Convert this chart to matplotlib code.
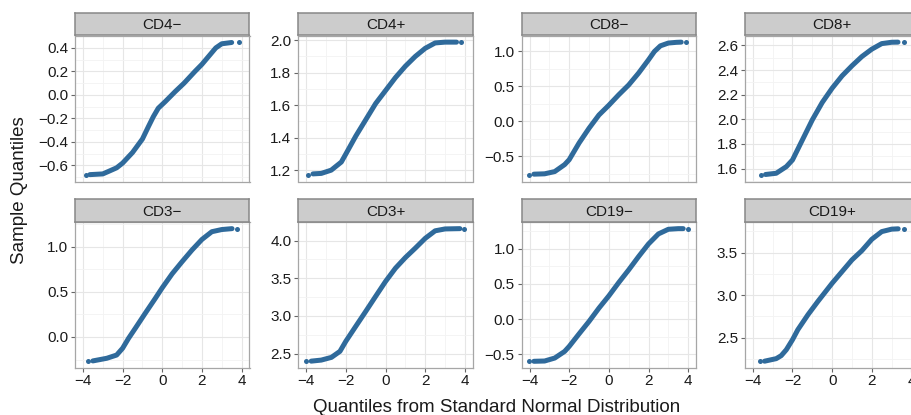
import matplotlib
matplotlib.use("Agg")
import matplotlib.pyplot as plt
from matplotlib.ticker import MultipleLocator, FuncFormatter

plt.rcParams["font.family"] = ["Liberation Sans", "DejaVu Sans"]

# facet order, left to right, top to bottom
panels = ["CD4\u2212", "CD4+", "CD8\u2212", "CD8+",
          "CD3\u2212", "CD3+", "CD19\u2212", "CD19+"]

# theoretical quantiles (z) and sample quantiles (q); first and last entries are the lone tail points
cd4_neg_z = [-3.86, -3.65, -3.0, -2.7, -2.3, -2.0, -1.5, -1.0, -0.7, -0.45, -0.2, 0.15, 0.65, 1.1, 1.65, 2.0, 2.4, 2.7, 3.0, 3.5, 3.87]
cd4_neg_q = [-0.68, -0.678, -0.672, -0.65, -0.62, -0.58, -0.49, -0.375, -0.27, -0.185, -0.113, -0.057, 0.028, 0.10, 0.20, 0.26, 0.34, 0.40, 0.435, 0.446, 0.449]

cd4_pos_z = [-3.91, -3.66, -3.24, -2.74, -2.23, -2.0, -1.5, -1.0, -0.5, 0.0, 0.5, 1.0, 1.5, 2.0, 2.5, 3.0, 3.58, 3.83]
cd4_pos_q = [1.171, 1.177, 1.18, 1.20, 1.25, 1.30, 1.41, 1.51, 1.61, 1.69, 1.77, 1.84, 1.90, 1.95, 1.983, 1.988, 1.988, 1.988]

cd8_neg_z = [-4.03, -3.78, -3.24, -2.73, -2.23, -2.0, -1.5, -1.0, -0.5, 0.0, 0.5, 1.0, 1.5, 2.0, 2.3, 2.6, 3.0, 3.4, 3.65, 3.91]
cd8_neg_q = [-0.767, -0.757, -0.752, -0.72, -0.62, -0.55, -0.31, -0.10, 0.09, 0.23, 0.38, 0.52, 0.69, 0.88, 1.0, 1.08, 1.12, 1.13, 1.133, 1.133]

cd8_pos_z = [-3.61, -3.36, -2.82, -2.31, -2.0, -1.5, -1.0, -0.5, 0.0, 0.5, 1.0, 1.5, 2.0, 2.5, 3.0, 3.32, 3.61]
cd8_pos_q = [1.549, 1.552, 1.562, 1.616, 1.67, 1.833, 1.996, 2.137, 2.253, 2.353, 2.435, 2.51, 2.57, 2.615, 2.626, 2.627, 2.627]

cd3_neg_z = [-3.75, -3.5, -2.8, -2.3, -2.0, -1.7, -1.36, -0.86, -0.35, 0.0, 0.5, 1.0, 1.5, 2.0, 2.5, 3.0, 3.52, 3.77]
cd3_neg_q = [-0.27, -0.265, -0.236, -0.20, -0.125, -0.015, 0.096, 0.262, 0.428, 0.545, 0.70, 0.834, 0.963, 1.08, 1.166, 1.19, 1.20, 1.20]

cd3_pos_z = [-4.0, -3.75, -3.24, -2.73, -2.3, -2.0, -1.5, -1.0, -0.5, 0.0, 0.5, 1.0, 1.5, 2.0, 2.5, 3.0, 3.75, 3.96]
cd3_pos_q = [2.397, 2.40, 2.414, 2.45, 2.53, 2.665, 2.863, 3.06, 3.26, 3.458, 3.634, 3.775, 3.90, 4.03, 4.13, 4.155, 4.159, 4.159]

cd19_neg_z = [-4.01, -3.78, -3.24, -2.73, -2.23, -2.0, -1.5, -1.0, -0.5, 0.0, 0.5, 1.0, 1.5, 2.0, 2.5, 3.0, 3.5, 3.75, 4.0]
cd19_neg_q = [-0.599, -0.598, -0.594, -0.552, -0.458, -0.387, -0.208, -0.033, 0.156, 0.33, 0.519, 0.698, 0.887, 1.066, 1.208, 1.274, 1.283, 1.283, 1.283]

cd19_pos_z = [-3.66, -3.41, -2.82, -2.57, -2.31, -2.0, -1.73, -1.22, -0.72, 0.0, 0.5, 1.0, 1.5, 2.0, 2.5, 3.0, 3.33, 3.63]
cd19_pos_q = [2.222, 2.224, 2.254, 2.289, 2.359, 2.476, 2.594, 2.77, 2.926, 3.14, 3.277, 3.414, 3.523, 3.656, 3.746, 3.775, 3.779, 3.781]

series = [(cd4_neg_z, cd4_neg_q), (cd4_pos_z, cd4_pos_q), (cd8_neg_z, cd8_neg_q), (cd8_pos_z, cd8_pos_q),
          (cd3_neg_z, cd3_neg_q), (cd3_pos_z, cd3_pos_q), (cd19_neg_z, cd19_neg_q), (cd19_pos_z, cd19_pos_q)]

# y tick spacing per facet (free y scales)
y_steps = [0.2, 0.2, 0.5, 0.2, 0.5, 0.5, 0.5, 0.5]

POINT_COLOR = "#2f6a9b"
TEXT_COLOR = "#1a1a1a"
W, H = 911, 415


def int_fmt(v, _pos):
    return ("%d" % round(v)).replace("-", "\u2212")


def one_dec(v, _pos):
    return ("%.1f" % v).replace("-", "\u2212")


fig = plt.figure(figsize=(W / 100, H / 100), dpi=100)

# panel geometry in pixels
left0, pitch, pw = 75, 223.3, 174.5
strip_h, panel_h = 22.5, 146
row_tops = [13, 199.5]

for i, (name, (z, q), step) in enumerate(zip(panels, series, y_steps)):
    row, col = divmod(i, 4)
    x0 = left0 + col * pitch
    top = row_tops[row]
    ax = fig.add_axes([x0 / W, 1 - (top + strip_h + panel_h) / H, pw / W, panel_h / H])
    sx = fig.add_axes([x0 / W, 1 - (top + strip_h) / H, pw / W, strip_h / H])

    # dense body as a thick line, lone extremes as dots
    ax.plot(z[1:-1], q[1:-1], color=POINT_COLOR, lw=3.6, solid_capstyle="round",
            solid_joinstyle="round", zorder=3)
    ax.plot([z[0], z[-1]], [q[0], q[-1]], "o", color=POINT_COLOR, ms=3.6, mec="none", zorder=3)

    ax.set_xlim(-4.4, 4.4)
    ax.margins(y=0.05)
    ax.xaxis.set_major_locator(MultipleLocator(2))
    ax.xaxis.set_minor_locator(MultipleLocator(1))
    ax.yaxis.set_major_locator(MultipleLocator(step))
    ax.yaxis.set_minor_locator(MultipleLocator(step / 2))
    ax.yaxis.set_major_formatter(FuncFormatter(one_dec))
    ax.xaxis.set_major_formatter(FuncFormatter(int_fmt))

    ax.grid(which="major", color="#e6e6e6", lw=0.8, zorder=0)
    ax.grid(which="minor", color="#f3f3f3", lw=0.6, zorder=0)
    ax.set_axisbelow(True)
    for sp in ax.spines.values():
        sp.set_color("#a6a6a6")
        sp.set_linewidth(0.9)

    ax.tick_params(which="minor", length=0)
    ax.tick_params(axis="y", which="major", length=3, color="#666666", width=0.8,
                   labelsize=11, labelcolor=TEXT_COLOR, pad=2)
    if row == 1:
        ax.tick_params(axis="x", which="major", length=3, color="#666666", width=0.8,
                       labelsize=11, labelcolor=TEXT_COLOR, pad=1.5)
    else:
        ax.tick_params(axis="x", which="major", length=0, labelbottom=False)

    sx.set_facecolor("#cccccc")
    sx.set_xticks([])
    sx.set_yticks([])
    for sp in sx.spines.values():
        sp.set_color("#888888")
        sp.set_linewidth(1.1)
    sx.text(0.5, 0.46, name, transform=sx.transAxes, ha="center", va="center",
            fontsize=11, color=TEXT_COLOR)

fig.text(497 / W, 1 - 407 / H, "Quantiles from Standard Normal Distribution",
         ha="center", va="center", fontsize=13.5, color=TEXT_COLOR)
fig.text(20 / W, 1 - 190 / H, "Sample Quantiles", rotation=90,
         ha="center", va="center", fontsize=13.5, color=TEXT_COLOR)

fig.savefig("out.png", dpi=100, facecolor="white")
